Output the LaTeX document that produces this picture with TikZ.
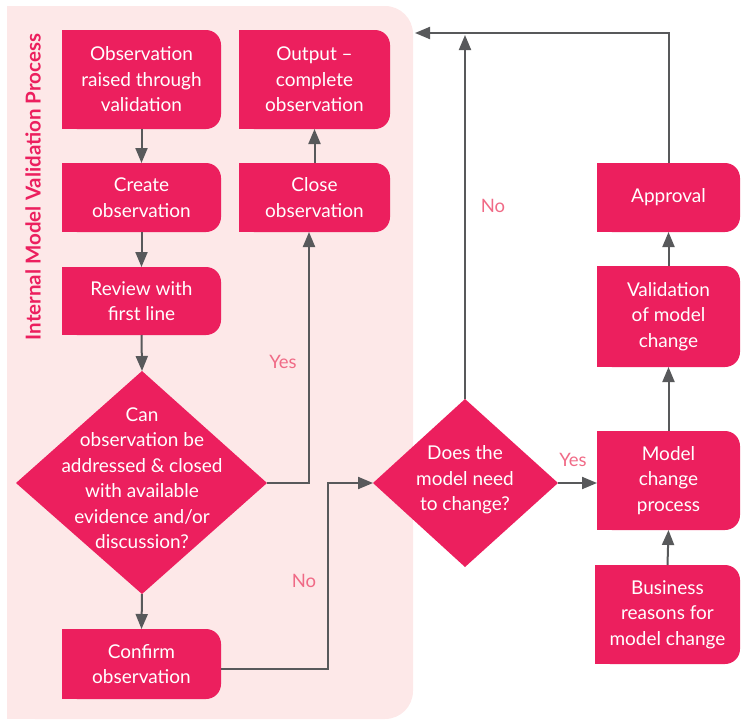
\documentclass[tikz,border=0pt]{standalone}
\usepackage{fontspec}
\setmainfont{Lato}
\usetikzlibrary{arrows.meta}
\definecolor{mag}{HTML}{EC1F5E}
\definecolor{panelbg}{HTML}{FDE8E8}
\definecolor{linegray}{HTML}{58595B}
\definecolor{lblpink}{HTML}{F06A86}
% box with rounded right-hand corners; #1 name, (#2,#3)-(#4,#5) corners, #6 text
\newcommand{\rbox}[6]{%
  \fill[mag, rounded corners=15] (#2,#3) rectangle (#4,#5);
  \fill[mag] (#2,#3) rectangle ({(#2+#4)/2},#5);
  \node[boxtext, minimum width={#4-#2}, minimum height={#5-#3}] (#1) at ({(#2+#4)/2},{(#3+#5)/2}) {#6};
}
\tikzset{
  boxtext/.style={inner sep=0pt, outer sep=0pt, text=white, align=center, font=\fontsize{19}{25.5}\selectfont},
  conn/.style={draw=linegray, line width=2pt, -{Triangle[length=15pt,width=12pt]}},
  lbl/.style={text=lblpink, font=\fontsize{18.5}{20}\selectfont},
}
\begin{document}
\begin{tikzpicture}[x=1pt,y=-1pt]
\useasboundingbox (0,0) rectangle (741,720);
% background panel, rounded on the right only
\fill[panelbg, rounded corners=28] (7,6) rectangle (413,719);
\fill[panelbg] (7,6) rectangle (200,719);
\node[rotate=90, text=mag, font=\bfseries\fontsize{20.5}{22}\selectfont] (title) at (33,187) {Internal Model Validation Process};

% left column
\rbox{raised}{62}{30}{221}{129}{Observation\\raised through\\validation}
\rbox{create}{62}{163}{221}{232}{Create\\observation}
\rbox{review}{62}{267}{221}{335}{Review with\\first line}
\rbox{confirm}{62}{629}{221}{699}{Confirm\\observation}
\rbox{output}{239}{30}{390}{129}{Output --\\complete\\observation}
\rbox{close}{239}{163}{390}{232}{Close\\observation}

% right column
\rbox{approval}{597}{163}{740}{232}{Approval}
\rbox{valid}{597}{266}{740}{367}{Validation\\of model\\change}
\rbox{mcp}{597}{431}{740}{530}{Model\\change\\process}
\rbox{business}{595}{565}{740}{664}{Business\\reasons for\\model change}

% decision 1
\coordinate (d1t) at (142,371);
\coordinate (d1b) at (142,594);
\coordinate (d1l) at (16,483);
\coordinate (d1r) at (267,483);
\fill[mag] (d1t) -- (d1r) -- (d1b) -- (d1l) -- cycle;
\node[boxtext] (dec1) at (142,478) {Can\\observation be\\addressed \& closed\\with available\\evidence and/or\\discussion?};

% decision 2
\coordinate (d2t) at (465,399);
\coordinate (d2b) at (465,567);
\coordinate (d2l) at (373,483);
\coordinate (d2r) at (558,483);
\fill[mag] (d2t) -- (d2r) -- (d2b) -- (d2l) -- cycle;
\node[boxtext] (dec2) at (465,480) {Does the\\model need\\to change?};

% bend points
\coordinate (yesbend) at (309,483);
\coordinate (nobend) at (328,483);
\coordinate (loopin) at (415,33);
\coordinate (looptop) at (465,35);

% connectors, left column
\draw[conn] (raised.south) -- (create.north);
\draw[conn] (create.south) -- (review.north);
\draw[conn] (review.south) -- (d1t);
\draw[conn] (d1b) -- (confirm.north);
\draw[conn] (close.north) -- (output.south);
\draw[conn] (d1r) -- (yesbend) -- (close.south -| yesbend);
\draw[conn] ([yshift=-5pt]confirm.east) -| (nobend) -- (d2l);

% connectors, right column
\draw[conn] (d2r) -- (d2r -| mcp.west);
\draw[conn] (business.north) -- (mcp.south);
\draw[conn] (mcp.north) -- (valid.south);
\draw[conn] (valid.north) -- (approval.south);
\draw[conn] (approval.north) |- (loopin);
\draw[conn] (d2t) -- (looptop);

% branch labels
\node[lbl] (yes1) at (283,362) {Yes};
\node[lbl] (no1) at (304,581) {No};
\node[lbl] (no2) at (493,206) {No};
\node[lbl] (yes2) at (573,460) {Yes};
\end{tikzpicture}
\end{document}
